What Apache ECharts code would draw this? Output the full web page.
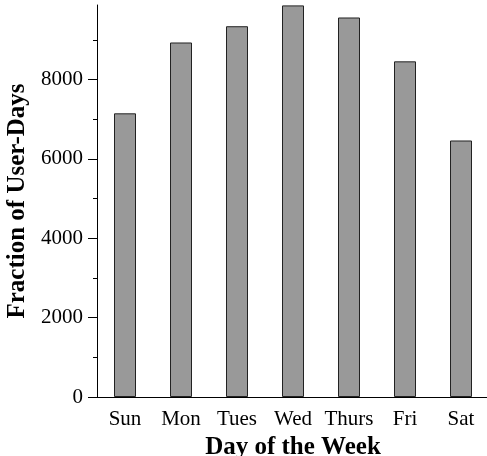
<!DOCTYPE html>
<html>
<head>
<meta charset="utf-8">
<script src="https://cdn.jsdelivr.net/npm/echarts@6/dist/echarts.min.js"></script>
<style>
  html, body { margin: 0; padding: 0; background: #fff; }
  #chart { width: 487px; height: 456px; }
</style>
</head>
<body>
<div id="chart"></div>
<script>
// values
const days = ["Sun", "Mon", "Tues", "Wed", "Thurs", "Fri", "Sat"];
const userDays = [7150, 8935, 9345, 9870, 9565, 8460, 6465];
const majorTicks = [0, 2000, 4000, 6000, 8000];
const minorTicks = [1000, 3000, 5000, 7000, 9000];
const yMax = 9880;

const serif = "'Liberation Serif', 'Times New Roman', serif";

let myChart = echarts.init(document.getElementById("chart"));
myChart.setOption({
  backgroundColor: "#ffffff",
  animation: false,
  grid: {
    left: 97,
    top: 5,
    width: 392,
    height: 392,
    outerBoundsMode: "none",
    containLabel: false,
  },
  xAxis: {
    type: "category",
    data: days,
    name: "Day of the Week",
    nameLocation: "middle",
    nameGap: 36,
    nameTextStyle: {
      color: "#000",
      fontFamily: serif,
      fontWeight: "bold",
      fontSize: 25,
    },
    axisLine: { lineStyle: { color: "#000", width: 1 } },
    axisTick: { show: false },
    axisLabel: {
      color: "#000",
      fontFamily: serif,
      fontSize: 21,
      margin: 12,
      interval: 0,
      hideOverlap: false,
    },
  },
  yAxis: [{
    type: "value",
    min: 0,
    max: yMax,
    name: "Fraction of User-Days",
    nameLocation: "middle",
    nameGap: 64,
    nameTextStyle: {
      color: "#000",
      fontFamily: serif,
      fontWeight: "bold",
      fontSize: 25,
    },
    splitLine: { show: false },
    axisLine: { show: true, lineStyle: { color: "#000", width: 1 } },
    axisTick: {
      show: true,
      length: 9,
      customValues: majorTicks,
      lineStyle: { color: "#000" },
    },
    axisLabel: {
      color: "#000",
      fontFamily: serif,
      fontSize: 21,
      margin: 14,
      customValues: majorTicks,
      formatter: function (v) { return String(v); },
    },
  }, {
    // minor ticks only
    type: "value",
    position: "left",
    min: 0,
    max: yMax,
    splitLine: { show: false },
    axisLine: { show: false },
    axisTick: {
      show: true,
      length: 4,
      customValues: minorTicks,
      lineStyle: { color: "#000" },
    },
    axisLabel: { show: false },
  }],
  series: [{
    name: "User-Days",
    type: "bar",
    data: userDays,
    barWidth: 22,
    itemStyle: {
      color: "#999999",
      borderColor: "#222222",
      borderWidth: 1,
    },
  }],
});
</script>
</body>
</html>
